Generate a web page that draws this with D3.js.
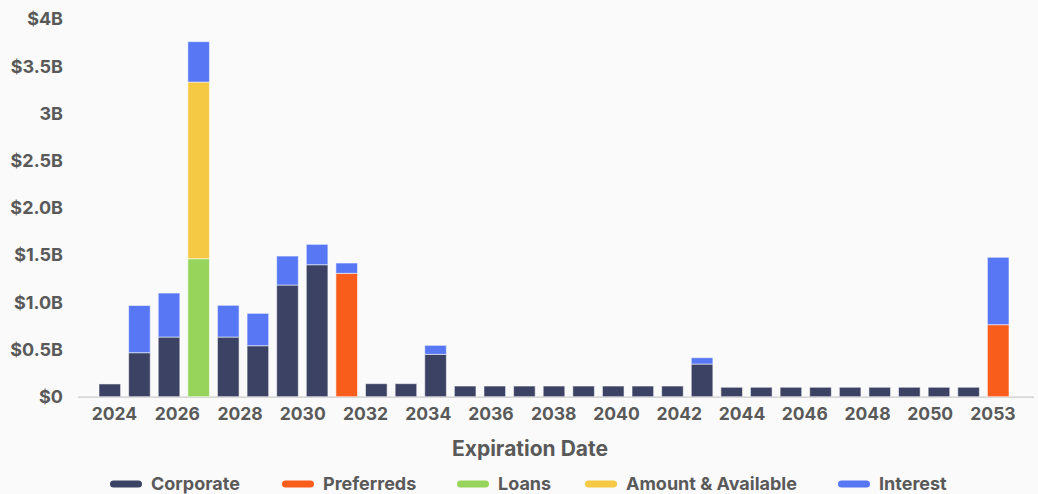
<!DOCTYPE html>
<html>
<head>
<meta charset="utf-8">
<script src="https://cdn.jsdelivr.net/npm/d3@7"></script>
<style>
  html, body { margin: 0; padding: 0; background: #fafafa; }
  svg { display: block; font-family: Inter, "Noto Sans", sans-serif; }
</style>
</head>
<body>
<svg id="chart" width="1038" height="494"></svg>
<script>
// Expiration years, one bar each
const categories = [
  "2024","2025","2026","2027","2028","2029","2030","2031","2032","2033",
  "2034","2035","2036","2037","2038","2039","2040","2041","2042","2043",
  "2044","2045","2046","2047","2048","2049","2050","2051","2052","2053","2054"
];

// Amounts in $ billions per series
const corporate = [0.135,0.466,0.632,0,0.632,0.540,1.183,1.398,0,0.138,
                   0.138,0.449,0.113,0.113,0.113,0.113,0.113,0.113,0.113,0.113,
                   0.346,0.10,0.10,0.10,0.10,0.10,0.10,0.10,0.10,0.10,0];
const preferreds = [0,0,0,0,0,0,0,0,1.307,0,
                    0,0,0,0,0,0,0,0,0,0,
                    0,0,0,0,0,0,0,0,0,0,0.763];
const loans = [0,0,0,1.462,0,0,0,0,0,0,
               0,0,0,0,0,0,0,0,0,0,
               0,0,0,0,0,0,0,0,0,0,0];
const amountAvailable = [0,0,0,1.871,0,0,0,0,0,0,
                         0,0,0,0,0,0,0,0,0,0,
                         0,0,0,0,0,0,0,0,0,0,0];
const interest = [0,0.50,0.466,0.428,0.336,0.343,0.307,0.216,0.109,0,
                  0,0.095,0,0,0,0,0,0,0,0,
                  0.067,0,0,0,0,0,0,0,0,0,0.714];

const seriesNames = ["Corporate","Preferreds","Loans","Amount & Available","Interest"];
const seriesColors = ["#3c4263","#f95d1c","#97d45b","#f6c944","#5777f4"];

const yTickValues = [0,0.5,1,1.5,2,2.5,3,3.5,4];
const yTickLabels = ["$0","$0.5B","$1.0B","$1.5B","$2.0B","$2.5B","3B","$3.5B","$4B"];
const xTickLabels = ["2024","2026","2028","2030","2032","2034","2036","2038",
                     "2040","2042","2044","2046","2048","2050","2053"];

const seriesValues = [corporate, preferreds, loans, amountAvailable, interest];
const rows = categories.map((c, i) => {
  const r = { year: c };
  seriesNames.forEach((s, k) => { r[s] = seriesValues[k][i]; });
  return r;
});

const svg = d3.select("#chart");
const W = 1038, H = 494;
const plot = { left: 99, right: 1009, top: 19.1, bottom: 396.7 };
const textColor = "#595959";

svg.append("rect").attr("width", W).attr("height", H).attr("fill", "#fafafa");

const x = d3.scaleBand()
  .domain(categories)
  .range([plot.left, plot.right])
  .paddingInner(0.27)
  .paddingOuter(0);

const y = d3.scaleLinear().domain([0, 4]).range([plot.bottom, plot.top]);

const color = d3.scaleOrdinal().domain(seriesNames).range(seriesColors);

// Y axis labels
const yAxis = d3.axisLeft(y)
  .tickValues(yTickValues)
  .tickFormat((d, i) => yTickLabels[i])
  .tickSize(0)
  .tickPadding(0);
const yg = svg.append("g").attr("transform", "translate(63,0)").call(yAxis);
yg.select(".domain").remove();
yg.selectAll("text")
  .attr("fill", textColor)
  .attr("font-size", 18)
  .attr("font-weight", 700)
  .attr("font-family", "Inter, sans-serif");

// Baseline
svg.append("line")
  .attr("x1", 78).attr("x2", 1034)
  .attr("y1", y(0) + 0.5).attr("y2", y(0) + 0.5)
  .attr("stroke", "#c9c9c9").attr("stroke-width", 1.2);

// Stacked bars
const stack = d3.stack().keys(seriesNames);
const layers = stack(rows);
svg.append("g").selectAll("g")
  .data(layers)
  .join("g")
  .attr("fill", d => color(d.key))
  .selectAll("rect")
  .data(d => d.filter(p => p[1] - p[0] > 0))
  .join("rect")
  .attr("x", d => x(d.data.year))
  .attr("width", x.bandwidth())
  .attr("y", d => y(d[1]))
  .attr("height", d => y(d[0]) - y(d[1]))
  .attr("stroke", "rgba(255,255,255,0.55)")
  .attr("stroke-width", 1);

// X axis labels spread evenly over the band range
const xLabels = d3.scalePoint()
  .domain(xTickLabels)
  .range([plot.left + 15, plot.right - 16.5]);
const xAxis = d3.axisBottom(xLabels).tickSize(0).tickPadding(0);
const xg = svg.append("g").attr("transform", `translate(0,${plot.bottom + 11})`).call(xAxis);
xg.select(".domain").remove();
xg.selectAll("text")
  .attr("fill", textColor)
  .attr("font-size", 17.5)
  .attr("font-weight", 700)
  .attr("font-family", "Inter, sans-serif")
  .attr("dy", "0.71em");

// Axis title
svg.append("text")
  .attr("x", 530).attr("y", 455.5)
  .attr("text-anchor", "middle")
  .attr("fill", textColor)
  .attr("font-size", 21)
  .attr("font-weight", 700)
  .text("Expiration Date");

// Legend
const legendX = [110, 282, 457, 585, 838];
const lg = svg.append("g").selectAll("g")
  .data(seriesNames)
  .join("g")
  .attr("transform", (d, i) => `translate(${legendX[i]},484)`);
lg.append("rect")
  .attr("x", 0).attr("y", -3.5)
  .attr("width", 32).attr("height", 7)
  .attr("rx", 3.5)
  .attr("fill", d => color(d));
lg.append("text")
  .attr("x", 41).attr("y", 0)
  .attr("dy", "0.36em")
  .attr("fill", textColor)
  .attr("font-size", 18)
  .attr("font-weight", 700)
  .text(d => d);
</script>
</body>
</html>
